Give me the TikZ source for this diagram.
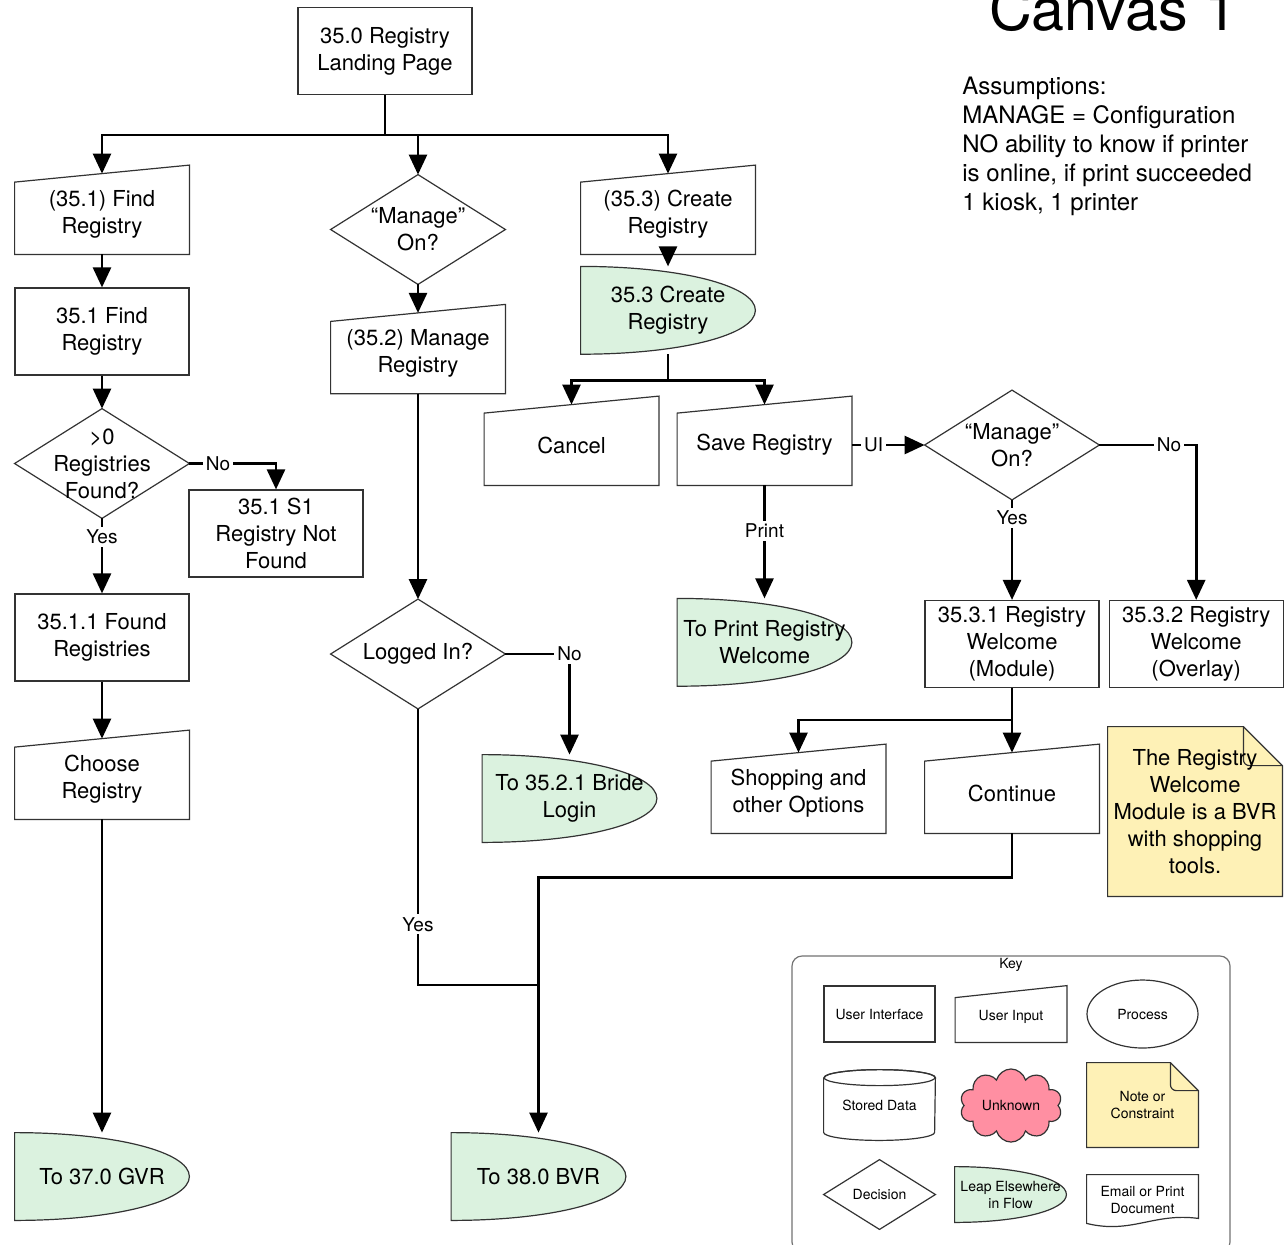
\documentclass[tikz,border=0pt]{standalone}
\usepackage{fontspec}
\setmainfont{TeX Gyre Heros}
\usepackage{tikz}
\usetikzlibrary{shapes.geometric, shapes.symbols, arrows.meta, positioning, calc, backgrounds}

\definecolor{leapgreen}{HTML}{DBF2DF}
\definecolor{noteyellow}{HTML}{FEF1B6}
\definecolor{unknownpink}{HTML}{FF8FA2}
\definecolor{edgegray}{HTML}{333333}

\begin{document}
\begin{tikzpicture}[
    x=0.5pt, y=-0.5pt,
    font=\fontsize{11}{13.5}\selectfont,
    ui/.style={rectangle, draw=edgegray, line width=0.6pt, minimum width=87pt, minimum height=43.5pt, align=center, inner sep=1pt},
    inp/.style={rectangle, minimum width=87pt, minimum height=40pt, align=center, inner sep=1pt},
    dec/.style={rectangle, minimum width=87pt, minimum height=54.5pt, align=center, inner sep=0pt},
    leap/.style={rectangle, minimum width=87pt, minimum height=43.5pt, align=center, inner sep=1pt},
    notebox/.style={rectangle, minimum width=87pt, minimum height=84.5pt, align=center, inner sep=1pt},
    keyitem/.style={rectangle, minimum width=55.5pt, minimum height=28pt, align=center, inner sep=1pt, font=\fontsize{7}{8.5}\selectfont},
    outline/.style={draw=edgegray, line width=0.6pt},
    arr/.style={-{Triangle[length=10pt, width=9pt]}, line width=1.3pt},
    link/.style={line width=1.3pt},
    lbl/.style={fill=white, inner sep=1.5pt, font=\fontsize{9.5}{11}\selectfont},
]
\useasboundingbox (0,0) rectangle (1288,1244);

% title and assumptions
\node[font=\fontsize{29.6}{35}\selectfont, anchor=base] (title) at (1113,30) {Canvas 1};
\node[font=\fontsize{12}{14.5}\selectfont, align=left, anchor=north west, inner sep=0pt] (assume) at (962,77) {Assumptions:\\MANAGE = Configuration\\NO ability to know if printer\\is online, if print succeeded\\1 kiosk, 1 printer};

\node[ui] (landing) at (385,51) {35.0 Registry\\Landing Page};

% find branch
\node[inp] (findui) at (102,214) {(35.1) Find\\Registry};
\node[ui, below=16.5pt of findui] (find) {35.1 Find\\Registry};
\node[dec, below=16.5pt of find] (found) {>0\\Registries\\Found?};
\node[ui] (notfound) at (276,533.5) {35.1 S1\\Registry Not\\Found};
\node[ui, below=37.5pt of found] (foundreg) {35.1.1 Found\\Registries};
\node[inp, below=28.5pt of foundreg] (choose) {Choose\\Registry};
\node[leap] (togvr) at (102,1176.5) {To 37.0 GVR};

% manage branch
\node[dec] (manageon) at (418,229.5) {“Manage”\\On?};
\node[inp, below=14.25pt of manageon] (manageui) {(35.2) Manage\\Registry};
\node[dec] (loggedin) at (418,654) {Logged In?};
\node[leap] (tologin) at (569.5,798.5) {To 35.2.1 Bride\\Login};
\node[leap] (tobvr) at (538.5,1176.5) {To 38.0 BVR};

% create branch
\node[inp] (createui) at (668,214) {(35.3) Create\\Registry};
\node[leap, below=6pt of createui] (create) {35.3 Create\\Registry};
\node[inp] (cancel) at (571.5,445) {Cancel};
\node[inp] (save) at (764.5,445) {Save Registry};
\node[leap, below=56.5pt of save] (toprint) {To Print Registry\\Welcome};
\node[dec] (manageon2) at (1012,445) {“Manage”\\On?};
\node[ui] (welcomemod) at (1012,644) {35.3.1 Registry\\Welcome\\(Module)};
\node[ui, right=4.5pt of welcomemod] (welcomeovl) {35.3.2 Registry\\Welcome\\(Overlay)};
\node[inp] (shopping) at (798.5,793) {Shopping and\\other Options};
\node[inp] (continue) at (1012,793) {Continue};
\node[notebox] (bvrnote) at (1195,811.5) {The Registry\\Welcome\\Module is a BVR\\with shopping\\tools.};

% key
\node[font=\fontsize{7}{8.5}\selectfont] (keytitle) at (1011,965) {Key};
\node[keyitem, draw=edgegray, line width=0.6pt] (keyui) at (879.5,1014) {User Interface};
\node[keyitem, minimum height=25pt] (keyinp) at (1011,1017) {User Input};
\node[keyitem, ellipse, draw=edgegray, line width=0.6pt, minimum height=34pt] (keyproc) at (1142.5,1014) {Process};
\node[keyitem, minimum height=35pt] (keystore) at (879.5,1105) {Stored Data};
\node[keyitem, cloud, cloud puffs=10, aspect=1.6, draw=edgegray, line width=0.6pt, fill=unknownpink, minimum width=51pt, minimum height=32.5pt] (keyunknown) at (1011,1105.5) {Unknown};
\node[keyitem, minimum height=42pt] (keynote) at (1142.5,1105) {Note or\\Constraint};
\node[keyitem, minimum height=34.5pt] (keydec) at (879.5,1194.5) {Decision};
\node[keyitem, minimum height=27.5pt] (keyleap) at (1010.5,1194.5) {Leap Elsewhere\\in Flow};
\node[keyitem, minimum height=24.5pt] (keydoc) at (1142.5,1199.5) {Email or Print\\Document};

% connectors
\coordinate (split0) at ($(landing.south)+(0,40)$);
\draw[link] (landing.south) -- (split0);
\draw[arr] (split0) -| (findui.north);
\draw[arr] (split0) -| (manageon.north);
\draw[arr] (split0) -| (createui.north);

\draw[arr] (findui) -- (find);
\draw[arr] (find) -- (found);
\draw[arr] (found.east) -| node[lbl, pos=0.165]{No} (notfound.north);
\draw[arr] (found) -- node[lbl, pos=0.25]{Yes} (foundreg);
\draw[arr] (foundreg) -- (choose);
\draw[arr] (choose) -- (togvr);

\draw[arr] (manageon) -- (manageui);
\draw[arr] (manageui) -- (loggedin);
\draw[arr] (loggedin.east) -| node[lbl]{No} (tologin.north);
\coordinate (join) at (538.5,985);
\draw[link] (loggedin.south) |- node[lbl, pos=0.39]{Yes} (join);

\draw[arr] (createui) -- (create);
\coordinate (split1) at ($(create.south)+(0,26)$);
\draw[link] (create.south) -- (split1);
\draw[arr] (split1) -| (cancel.north);
\draw[arr] (split1) -| (save.north);
\draw[arr] (save) -- node[lbl, pos=0.3]{UI} (manageon2);
\draw[arr] (save) -- node[lbl, pos=0.4]{Print} (toprint);
\draw[arr] (manageon2) -- node[lbl, pos=0.18]{Yes} (welcomemod);
\draw[arr] (manageon2.east) -| node[lbl, pos=0.36]{No} (welcomeovl.north);
\coordinate (split2) at ($(welcomemod.south)+(0,32)$);
\draw[link] (welcomemod) -- (split2);
\draw[arr] (split2) -| (shopping.north);
\draw[arr] (split2) -- (continue);
\draw[arr] (continue.south) -- ++(0,44) -| (tobvr.north);

% outlines behind the text
\begin{scope}[on background layer]
  \fill[white] (0,0) rectangle (1288,1244);
  \draw[draw=black!55, line width=0.6pt, rounded corners=5pt] (792,956) rectangle (1230,1252);
  % user input, slanted top
  \foreach \n in {findui, choose, manageui, createui, cancel, save, shopping, continue}
    \draw[outline] ([yshift=-4.25pt]\n.north west) -- ([yshift=4.25pt]\n.north east) -- (\n.south east) -- (\n.south west) -- cycle;
  \draw[outline] ([yshift=-3pt]keyinp.north west) -- ([yshift=3pt]keyinp.north east) -- (keyinp.south east) -- (keyinp.south west) -- cycle;
  % decisions
  \foreach \n in {found, manageon, loggedin, manageon2, keydec}
    \draw[outline] (\n.north) -- (\n.east) -- (\n.south) -- (\n.west) -- cycle;
  % leaps
  \foreach \n in {togvr, tologin, tobvr, create, toprint, keyleap}
    \draw[outline, fill=leapgreen] (\n.north west) .. controls ($(\n.north west)!0.575!(\n.north east)$) and ($(\n.north east)!0.22!(\n.south east)$) .. (\n.east) .. controls ($(\n.south east)!0.22!(\n.north east)$) and ($(\n.south west)!0.575!(\n.south east)$) .. (\n.south west) -- cycle;
  % notes with folded corner
  \foreach \n/\f in {bvrnote/19.5pt, keynote/14pt}{
    \draw[outline, fill=noteyellow] (\n.north west) -- ([xshift=-\f]\n.north east) -- ([yshift=-\f]\n.north east) -- (\n.south east) -- (\n.south west) -- cycle;
    \draw[outline, rounded corners=3pt] ([xshift=-\f]\n.north east) -- ([xshift=-\f, yshift=-\f]\n.north east) -- ([yshift=-\f]\n.north east);
  }
  % stored data
  \draw[outline] ([yshift=-4pt]keystore.north west) -- ([yshift=4pt]keystore.south west) arc[start angle=180, end angle=360, x radius=27.75pt, y radius=4pt] -- ([yshift=-4pt]keystore.north east) arc[start angle=0, end angle=180, x radius=27.75pt, y radius=4pt];
  \draw[outline] ([yshift=-4pt]keystore.north) ellipse[x radius=27.75pt, y radius=4pt];
  % document
  \draw[outline] (keydoc.north west) -- (keydoc.north east) -- ($(keydoc.south east)+(0,-6)$) .. controls ($(keydoc.south east)+(-45,-12)$) and ($(keydoc.south west)+(45,10)$) .. ($(keydoc.south west)+(0,-1)$) -- cycle;
\end{scope}

\end{tikzpicture}
\end{document}
